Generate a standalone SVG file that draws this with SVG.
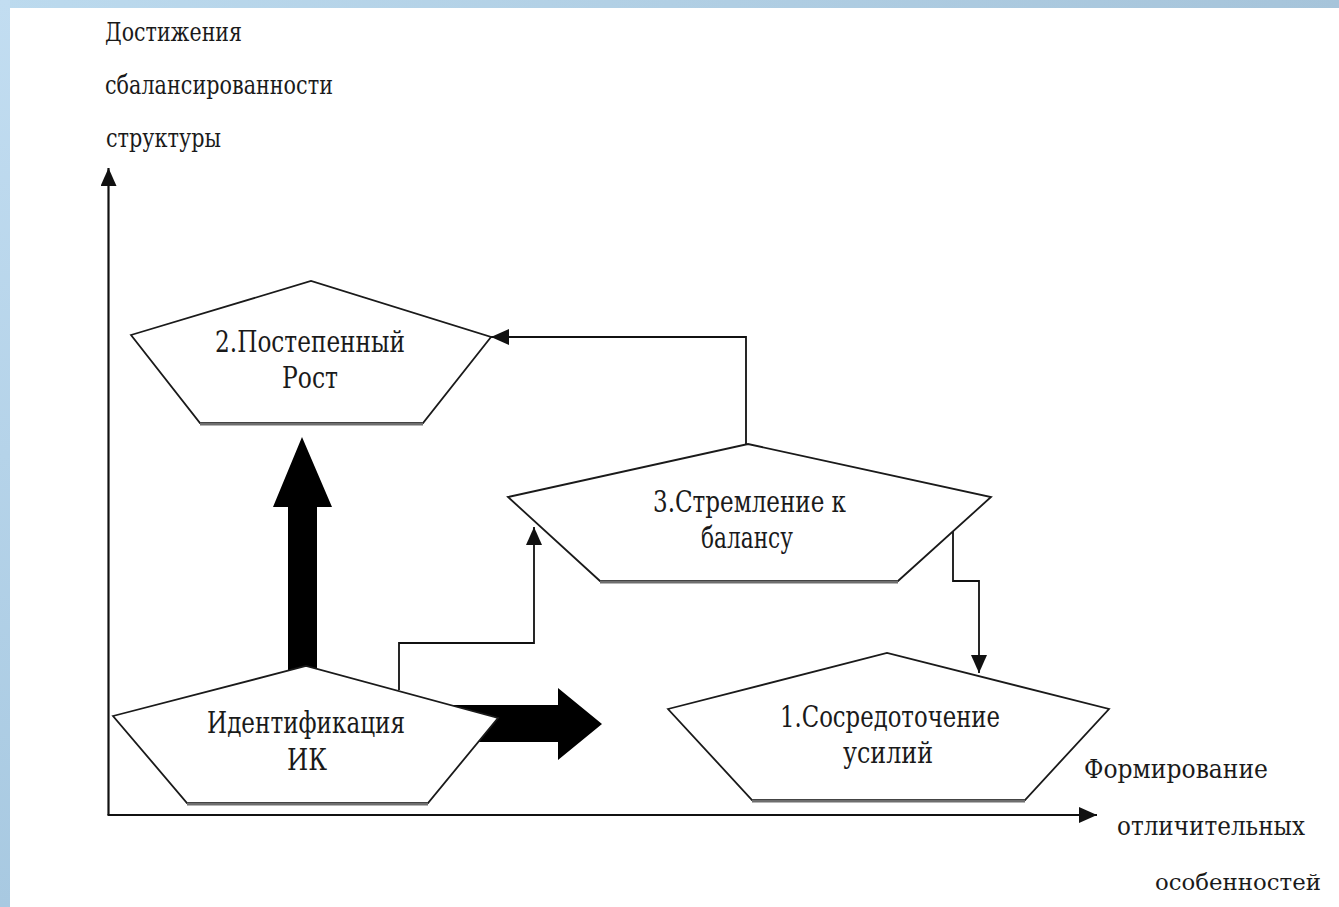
<svg xmlns="http://www.w3.org/2000/svg" width="1339" height="907" viewBox="0 0 1339 907">
  <defs>
    <linearGradient id="gTop" x1="0" y1="0" x2="1" y2="0">
      <stop offset="0" stop-color="#bcdaee"/>
      <stop offset="1" stop-color="#a6c4da"/>
    </linearGradient>
    <linearGradient id="gLeft" x1="0" y1="0" x2="0" y2="1">
      <stop offset="0" stop-color="#c2ddf1"/>
      <stop offset="1" stop-color="#a8c9e1"/>
    </linearGradient>
    <marker id="arr" viewBox="0 0 18 16" refX="18" refY="8" markerWidth="18" markerHeight="16" markerUnits="userSpaceOnUse" orient="auto">
      <path d="M0,0 L18,8 L0,16 z" fill="#111"/>
    </marker>
    <style>
      .lbl { font-size: 26px; }
      .nlbl { font-size: 29px; }
      .pent { fill: #ffffff; stroke: #1a1a1a; stroke-width: 1.8; stroke-linejoin: miter; }
      .base { stroke: #6e6e6e; stroke-width: 3; }
      .conn { fill: none; stroke: #111; stroke-width: 1.8; }
      .axis { fill: none; stroke: #111; stroke-width: 2.2; }
      .thick { fill: #000; }
    </style>
  </defs>

  <rect x="0" y="0" width="1339" height="907" fill="#ffffff"/>
  <rect x="0" y="0" width="1339" height="8" fill="url(#gTop)"/>
  <rect x="0" y="0" width="10" height="907" fill="url(#gLeft)"/>

  <g id="axes" font-family="'DejaVu Serif', 'Liberation Serif', serif" fill="#1a1a1a">
    <line class="axis" x1="108.5" y1="815" x2="108.5" y2="168" marker-end="url(#arr)"/>
    <line class="axis" x1="107.5" y1="815" x2="1097" y2="815" marker-end="url(#arr)"/>
    <text class="lbl" x="105" y="41" textLength="137" lengthAdjust="spacingAndGlyphs">Достижения</text>
    <text class="lbl" x="105" y="94" textLength="228" lengthAdjust="spacingAndGlyphs">сбалансированности</text>
    <text class="lbl" x="106" y="147" textLength="115" lengthAdjust="spacingAndGlyphs">структуры</text>
    <text class="lbl" x="1084" y="778" textLength="184" lengthAdjust="spacingAndGlyphs">Формирование</text>
    <text class="lbl" x="1117" y="835" textLength="188" lengthAdjust="spacingAndGlyphs">отличительных</text>
    <text class="lbl" x="1155" y="890" font-size="23" style="font-size:23px" textLength="166" lengthAdjust="spacingAndGlyphs">особенностей</text>
  </g>

  <g id="connectors">
    <polygon class="thick" points="288,670 288,507 273,507 302,437 332,507 317,507 317,670"/>
    <polygon class="thick" points="450,705 558,705 558,688 602,724 558,760 558,742 450,742"/>
    <polyline class="conn" points="399,690 399,643 534,643 534,527" marker-end="url(#arr)"/>
    <polyline class="conn" points="746,444 746,337 491,337" marker-end="url(#arr)"/>
    <polyline class="conn" points="953,530 953,581 979,581 979,673" marker-end="url(#arr)"/>
  </g>

  <g id="node-2" font-family="'DejaVu Serif', 'Liberation Serif', serif" fill="#1a1a1a">
    <polygon class="pent" points="131,335 311,281 491,337 423,423 200,423"/>
    <line class="base" x1="200" y1="424" x2="423" y2="424"/>
    <text class="nlbl" x="215" y="352" textLength="190" lengthAdjust="spacingAndGlyphs">2.Постепенный</text>
    <text class="nlbl" x="282" y="388" textLength="56" lengthAdjust="spacingAndGlyphs">Рост</text>
  </g>

  <g id="node-3" font-family="'DejaVu Serif', 'Liberation Serif', serif" fill="#1a1a1a">
    <polygon class="pent" points="508,497 748,444 991,497 898,581 600,581"/>
    <line class="base" x1="600" y1="582" x2="898" y2="582"/>
    <text class="nlbl" x="653" y="512" textLength="193" lengthAdjust="spacingAndGlyphs">3.Стремление к</text>
    <text class="nlbl" x="701" y="548" textLength="92" lengthAdjust="spacingAndGlyphs">балансу</text>
  </g>

  <g id="node-ident" font-family="'DejaVu Serif', 'Liberation Serif', serif" fill="#1a1a1a">
    <polygon class="pent" points="113,716 306,666 498,718 428,803 187,803"/>
    <line class="base" x1="187" y1="804" x2="428" y2="804"/>
    <text class="nlbl" x="207" y="733" textLength="198" lengthAdjust="spacingAndGlyphs">Идентификация</text>
    <text class="nlbl" x="287" y="770" textLength="40" lengthAdjust="spacingAndGlyphs">ИК</text>
  </g>

  <g id="node-1" font-family="'DejaVu Serif', 'Liberation Serif', serif" fill="#1a1a1a">
    <polygon class="pent" points="668,709 887,653 1109,709 1025,800 752,800"/>
    <line class="base" x1="752" y1="801" x2="1025" y2="801"/>
    <text class="nlbl" x="780" y="727" textLength="220" lengthAdjust="spacingAndGlyphs">1.Сосредоточение</text>
    <text class="nlbl" x="843" y="763" textLength="90" lengthAdjust="spacingAndGlyphs">усилий</text>
  </g>
</svg>
